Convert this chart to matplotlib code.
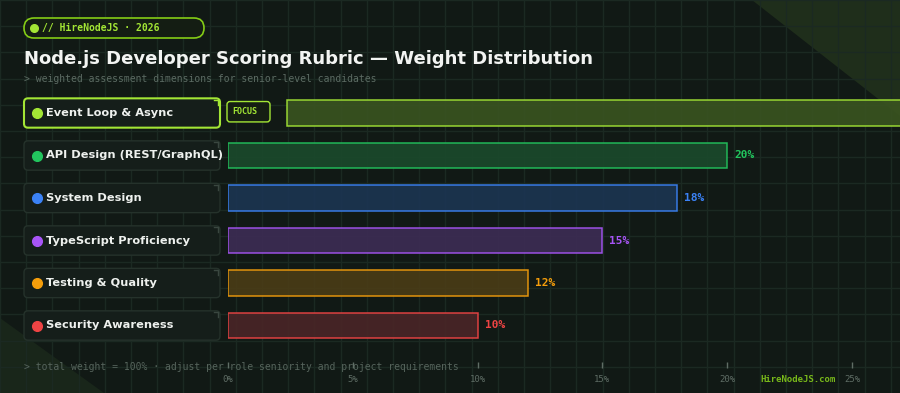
import numpy as np
import matplotlib.pyplot as plt
from matplotlib.patches import FancyBboxPatch, Polygon
from matplotlib.transforms import blended_transform_factory

# data
categories = ['Event Loop & Async', 'API Design (REST/GraphQL)', 'System Design',
              'TypeScript Proficiency', 'Testing & Quality', 'Security Awareness']
weights = [25, 20, 18, 15, 12, 10]
colors = ['#a3e635', '#22c55e', '#3b82f6', '#a855f7', '#f59e0b', '#ef4444']
fills = ['#3a5420', '#1a4a2c', '#1c3552', '#3d2c55', '#4a3c16', '#4a2527']
xticks = [0, 5, 10, 15, 20, 25]
focus_idx = 0

BG = '#111915'
GRIDC = '#1b2922'
MONO = 'DejaVu Sans Mono'

fig = plt.figure(figsize=(9, 3.93), dpi=100)
fig.patch.set_facecolor(BG)

# background axes in pixel units
bg = fig.add_axes([0, 0, 1, 1])
bg.set_xlim(0, 900)
bg.set_ylim(393, 0)
bg.axis('off')
bg.add_patch(Polygon([(752, 0), (900, 0), (900, 116)], closed=True, color='#1f2e1b', lw=0))
bg.add_patch(Polygon([(0, 318), (0, 393), (104, 393)], closed=True, color='#19261a', lw=0))
for gx in np.arange(0, 900, 26.2):
    bg.axvline(gx, color=GRIDC, lw=1, zorder=1)
for gy in np.arange(0, 393, 26.2):
    bg.axhline(gy, color=GRIDC, lw=1, zorder=1)

# header
bg.add_patch(FancyBboxPatch((24, 18), 180, 20, boxstyle='round,pad=0,rounding_size=10',
                            fc='#141d13', ec='#84cc16', lw=1.2, zorder=3))
bg.plot(34, 28, 'o', ms=5.5, color='#a3e635', zorder=4)
bg.text(42, 28.5, '// HireNodeJS · 2026', family=MONO, weight='bold', size=7,
        color='#a3e635', va='center', zorder=4)
bg.text(24, 64.5, 'Node.js Developer Scoring Rubric — Weight Distribution',
        weight='bold', size=13, color='#f2f4f2', va='baseline', zorder=4)
bg.text(24, 78.5, '> weighted assessment dimensions for senior-level candidates',
        family=MONO, size=7, color='#5c6b63', va='center', zorder=4)
bg.text(24, 367, '> total weight = 100% · adjust per role seniority and project requirements',
        family=MONO, size=7, color='#56645c', va='center', zorder=4)
bg.text(760, 379, 'HireNodeJS.com', family=MONO, weight='bold', size=6.5,
        color='#78b81a', va='center', zorder=4)

# bar axes: 0% at x=228 px, 24.96 px per percent
ax = fig.add_axes([228 / 900, 1 - 346.75 / 393, 672 / 900, 255 / 393])
ax.patch.set_alpha(0)
xmax = 672 / 24.96
ax.set_xlim(0, xmax)
ax.set_ylim(5.5, -0.5)
for s in ax.spines.values():
    s.set_visible(False)
ax.spines['bottom'].set_visible(True)
ax.spines['bottom'].set_color('none')
ax.spines['bottom'].set_position(('outward', 11))
ax.set_yticks([])
ax.set_xticks(xticks)
ax.set_xticklabels([f'{t}%' for t in xticks], family=MONO, size=6.5, color='#5f6d65')
ax.tick_params(axis='x', colors='#5f6d65', length=4.5, width=1, pad=4.5)
for lab in ax.get_xticklabels():
    lab.set_color('#5f6d65')

rows = np.arange(len(categories))
offset = 59 / 24.96
lefts = [offset if i == focus_idx else 0 for i in rows]
ax.barh(rows, weights, left=lefts, height=0.61, color=fills, edgecolor=colors,
        linewidth=1.1, alpha=0.9, zorder=3, clip_on=True)

for i, (w, l, c) in enumerate(zip(weights, lefts, colors)):
    if l + w + 0.28 < xmax - 1.5:  # the focus label runs off the right edge
        ax.text(l + w + 0.28, i, f'{w}%', family=MONO, weight='bold', size=8,
                color=c, va='center', zorder=4)

# label boxes: x in pixels, y in rows
tr = blended_transform_factory(bg.transData, ax.transData)
for i, (cat, c) in enumerate(zip(categories, colors)):
    focus = i == focus_idx
    ax.add_patch(FancyBboxPatch((24, i - 0.345), 196, 0.69,
                                boxstyle='round,pad=0,rounding_size=4',
                                mutation_aspect=1 / 42.5, transform=tr, clip_on=False,
                                fc='#151e1a', ec='#a3e635' if focus else '#25322b',
                                lw=1.5 if focus else 1, zorder=5))
    ax.plot([214, 218, 218], [i - 0.31, i - 0.31, i - 0.2], transform=tr, clip_on=False,
            color='#a3e635' if focus else '#3a4740', lw=1, zorder=6)
    ax.plot(37, i, 'o', ms=7, color=c, transform=tr, clip_on=False, zorder=6)
    ax.text(46.5, i, cat, transform=tr, weight='bold', size=8.2, color='#eef1ee',
            va='center', zorder=6)
    if focus:
        ax.add_patch(FancyBboxPatch((227, i - 0.27), 43, 0.48,
                                    boxstyle='round,pad=0,rounding_size=3',
                                    mutation_aspect=1 / 42.5, transform=tr, clip_on=False,
                                    fc='#151e13', ec='#a3e635', lw=1, zorder=5))
        ax.text(232, i - 0.03, 'FOCUS', transform=tr, family=MONO, weight='bold', size=6,
                color='#a3e635', va='center', zorder=6)

fig.savefig('out.png', dpi=100, facecolor=BG)
